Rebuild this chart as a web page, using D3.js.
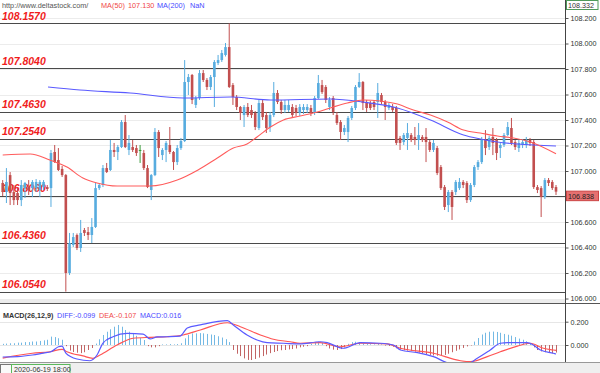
<!DOCTYPE html>
<html>
<head>
<meta charset="utf-8">
<script src="https://cdn.jsdelivr.net/npm/d3@7"></script>
<style>
  html, body { margin: 0; padding: 0; background: #fff; }
  svg { display: block; font-family: "Liberation Sans", Arial, sans-serif; }
</style>
</head>
<body>
<svg id="chart" width="600" height="373"></svg>
<script>
// ------------------ 1. Data ------------------

// one row per bar: [open, high, low, close]
const ohlc = [
  [106.906, 106.929, 106.804, 106.835], [106.835, 107.023, 106.749, 106.914],
  [106.968, 106.992, 106.733, 106.827], [106.835, 106.890, 106.733, 106.772],
  [106.827, 106.866, 106.733, 106.772], [106.772, 106.929, 106.725, 106.890],
  [106.866, 106.914, 106.788, 106.906], [106.874, 106.929, 106.812, 106.851],
  [106.866, 106.929, 106.796, 106.914], [106.866, 106.937, 106.835, 106.914],
  [106.851, 106.929, 106.796, 106.914], [106.874, 106.929, 106.851, 106.914],
  [106.874, 106.890, 106.843, 106.859], [106.866, 107.165, 106.718, 107.141],
  [107.149, 107.204, 107.063, 107.070], [107.086, 107.180, 107.000, 107.008],
  [107.016, 107.039, 106.953, 106.968], [106.968, 106.976, 106.054, 106.200],
  [106.200, 106.514, 106.184, 106.435], [106.420, 106.514, 106.404, 106.482],
  [106.498, 106.510, 106.380, 106.396], [106.396, 106.616, 106.365, 106.514],
  [106.537, 106.553, 106.490, 106.514], [106.521, 106.561, 106.459, 106.498],
  [106.498, 106.631, 106.435, 106.561], [106.561, 106.906, 106.553, 106.866],
  [106.866, 106.906, 106.851, 106.890], [106.890, 107.047, 106.874, 107.023],
  [107.023, 107.063, 106.984, 106.992], [107.008, 107.243, 107.000, 107.165],
  [107.165, 107.220, 107.110, 107.149], [107.149, 107.204, 107.086, 107.188],
  [107.188, 107.400, 107.180, 107.384], [107.384, 107.439, 107.180, 107.188],
  [107.165, 107.282, 107.125, 107.220], [107.188, 107.243, 107.149, 107.165],
  [107.180, 107.204, 107.118, 107.141], [107.165, 107.204, 107.063, 107.165],
  [107.141, 107.165, 107.008, 107.023], [107.023, 107.047, 106.866, 106.874],
  [106.851, 106.976, 106.772, 106.968], [106.968, 107.337, 106.960, 107.306],
  [107.306, 107.321, 107.110, 107.180], [107.125, 107.180, 107.086, 107.165],
  [107.165, 107.235, 107.070, 107.220], [107.204, 107.345, 107.133, 107.149],
  [107.149, 107.157, 107.008, 107.070], [107.070, 107.204, 107.047, 107.180],
  [107.180, 107.259, 107.165, 107.235], [107.235, 107.870, 107.227, 107.698],
  [107.698, 107.761, 107.596, 107.737], [107.753, 107.761, 107.525, 107.557],
  [107.518, 107.588, 107.494, 107.572], [107.572, 107.792, 107.557, 107.768],
  [107.768, 107.792, 107.698, 107.714], [107.714, 107.729, 107.635, 107.659],
  [107.659, 107.753, 107.635, 107.737], [107.737, 107.870, 107.502, 107.855],
  [107.847, 107.910, 107.831, 107.870], [107.870, 107.949, 107.855, 107.925],
  [107.910, 108.004, 107.898, 107.972], [107.972, 108.157, 107.651, 107.659],
  [107.674, 107.690, 107.518, 107.580], [107.580, 107.596, 107.478, 107.502],
  [107.502, 107.510, 107.400, 107.455], [107.439, 107.518, 107.345, 107.502],
  [107.502, 107.533, 107.423, 107.439], [107.478, 107.518, 107.416, 107.439],
  [107.455, 107.470, 107.321, 107.345], [107.337, 107.557, 107.321, 107.533],
  [107.533, 107.557, 107.400, 107.423], [107.439, 107.463, 107.298, 107.337],
  [107.345, 107.463, 107.306, 107.439], [107.439, 107.698, 107.423, 107.612],
  [107.612, 107.635, 107.525, 107.541], [107.541, 107.557, 107.447, 107.478],
  [107.478, 107.557, 107.455, 107.518], [107.478, 107.557, 107.463, 107.518],
  [107.502, 107.525, 107.416, 107.439], [107.494, 107.518, 107.431, 107.455],
  [107.455, 107.525, 107.431, 107.502], [107.478, 107.525, 107.447, 107.502],
  [107.478, 107.525, 107.455, 107.502], [107.494, 107.518, 107.431, 107.455],
  [107.455, 107.588, 107.439, 107.572], [107.572, 107.753, 107.565, 107.690],
  [107.674, 107.714, 107.604, 107.619], [107.659, 107.674, 107.533, 107.557],
  [107.502, 107.580, 107.478, 107.557], [107.572, 107.588, 107.439, 107.463],
  [107.439, 107.463, 107.361, 107.376], [107.384, 107.400, 107.243, 107.306],
  [107.306, 107.361, 107.282, 107.337], [107.306, 107.431, 107.227, 107.416],
  [107.416, 107.510, 107.400, 107.494], [107.494, 107.674, 107.478, 107.659],
  [107.659, 107.768, 107.651, 107.698], [107.698, 107.706, 107.478, 107.533],
  [107.541, 107.557, 107.463, 107.494], [107.533, 107.549, 107.478, 107.494],
  [107.541, 107.557, 107.478, 107.502], [107.541, 107.690, 107.416, 107.612],
  [107.596, 107.612, 107.525, 107.541], [107.541, 107.557, 107.400, 107.502],
  [107.494, 107.533, 107.478, 107.518], [107.502, 107.525, 107.463, 107.478],
  [107.494, 107.510, 107.204, 107.220], [107.259, 107.275, 107.165, 107.220],
  [107.227, 107.298, 107.204, 107.282], [107.259, 107.376, 107.165, 107.298],
  [107.282, 107.298, 107.227, 107.243], [107.267, 107.345, 107.204, 107.243],
  [107.243, 107.376, 107.165, 107.282], [107.267, 107.282, 107.227, 107.243],
  [107.267, 107.337, 107.070, 107.227], [107.227, 107.243, 107.149, 107.165],
  [107.165, 107.243, 107.149, 107.220], [107.180, 107.196, 106.968, 106.984],
  [107.031, 107.047, 106.851, 106.866], [106.874, 106.890, 106.694, 106.718],
  [106.733, 106.851, 106.678, 106.835], [106.835, 106.851, 106.616, 106.718],
  [106.835, 106.929, 106.812, 106.914], [106.866, 106.945, 106.851, 106.914],
  [106.914, 106.929, 106.866, 106.890], [106.906, 106.921, 106.749, 106.772],
  [106.772, 106.906, 106.757, 106.890], [106.890, 107.047, 106.874, 107.031],
  [107.031, 107.086, 107.008, 107.070], [107.070, 107.267, 107.055, 107.243],
  [107.243, 107.321, 107.125, 107.180], [107.188, 107.275, 107.165, 107.259],
  [107.267, 107.337, 107.125, 107.220], [107.243, 107.259, 107.086, 107.141],
  [107.180, 107.220, 107.102, 107.204], [107.204, 107.298, 107.188, 107.282],
  [107.282, 107.384, 107.275, 107.345], [107.337, 107.416, 107.204, 107.220],
  [107.227, 107.243, 107.165, 107.188], [107.180, 107.243, 107.149, 107.220],
  [107.204, 107.251, 107.180, 107.227], [107.204, 107.267, 107.180, 107.243],
  [107.243, 107.259, 107.196, 107.220], [107.227, 107.243, 106.859, 106.874],
  [106.874, 106.890, 106.827, 106.851], [106.866, 106.882, 106.639, 106.796],
  [106.796, 106.945, 106.780, 106.929], [106.929, 106.945, 106.882, 106.906],
  [106.914, 106.929, 106.851, 106.866], [106.874, 106.890, 106.812, 106.838]
];

// moving averages, sampled as [bar index, price]
const ma50Pts = [[0,107.125],[7.4,107.133],[12.7,107.086],[17.3,107.031],[21.6,106.945],
  [25.4,106.906],[30.8,106.882],[39.7,106.882],[47,106.929],[52.6,107.008],[57.8,107.102],
  [62.1,107.180],[65.8,107.212],[68.5,107.267],[72.1,107.345],[75.6,107.400],[80.1,107.431],
  [84.7,107.463],[89,107.502],[92.8,107.533],[97.1,107.557],[101.7,107.549],[106.3,107.525],
  [110.6,107.478],[115.2,107.439],[119.8,107.384],[124.1,107.321],[128.6,107.298],
  [133.2,107.274],[137.6,107.259],[142.1,107.227],[149,107.135]];
const ma200Pts = [[12.2,107.659],[20.8,107.635],[34.3,107.612],[48.6,107.572],[61.3,107.580],
  [72.1,107.557],[88.2,107.565],[97.1,107.541],[106.3,107.494],[115.2,107.400],[124.1,107.282],
  [128.6,107.251],[133.2,107.227],[138.6,107.212],[149,107.196]];

// horizontal support / resistance levels
const levels = [108.157, 107.804, 107.463, 107.254, 106.806, 106.436, 106.054];

// MACD histogram, one per bar
const macdHist = [
  0.010, 0.012, 0.015, 0.015, 0.020, 0.020, 0.025, 0.025, 0.030, 0.030, 0.035, 0.040,
  0.045, 0.072, 0.068, 0.058, 0.045,
  -0.010, -0.048, -0.060, -0.066, -0.070, -0.062, -0.043, -0.026,
  0.012, 0.049, 0.086, 0.114, 0.135, 0.157, 0.172, 0.157, 0.129, 0.114, 0.100, 0.079, 0.060, 0.043,
  -0.010, -0.020, -0.020, -0.010, 0.005, 0.005, 0.008, 0.005, 0.008, 0.015,
  0.057, 0.086, 0.100, 0.100, 0.102, 0.100, 0.095, 0.090, 0.086, 0.075, 0.064, 0.050, 0.025,
  -0.043, -0.075, -0.095, -0.115, -0.128, -0.129, -0.120, -0.108, -0.095, -0.082, -0.070,
  -0.060, -0.052, -0.045, -0.043, -0.038, -0.035, -0.030, -0.020,
  -0.015, -0.010, 0.010, 0.025, 0.028, 0.020, -0.010, -0.030, -0.040, -0.043, -0.035, -0.020,
  0.010, 0.025, 0.028, 0.022, 0.012, 0.008, 0.006, 0.005, 0.008, 0.005, -0.005, -0.008, -0.015,
  -0.028, -0.040, -0.045, -0.048, -0.052, -0.057, -0.065, -0.072, -0.078, -0.085, -0.090,
  -0.092, -0.090, -0.085, -0.075, -0.062, -0.050, -0.038, -0.025, -0.012, -0.004,
  0.029, 0.060, 0.090, 0.105, 0.114, 0.115, 0.112, 0.105, 0.095, 0.088, 0.080, 0.068, 0.055,
  0.045, 0.032, 0.015,
  -0.020, -0.043, -0.055, -0.062, -0.068, -0.072, -0.065
];
// DIFF / DEA lines sampled as [bar index, value]
const diffPts = [[0,-0.103],[4,-0.100],[8,-0.086],[11,-0.069],[13,-0.058],[15,-0.015],[16,-0.009],
  [17,-0.069],[20,-0.120],[23.5,-0.135],[25.4,-0.086],[27,0.017],[29.7,0.071],[33.5,0.100],
  [37.8,0.094],[39.7,0.052],[41.6,0.069],[44.3,0.071],[47.8,0.077],[49.7,0.146],[53.2,0.172],
  [60.5,0.209],[62.1,0.172],[65.8,0.086],[68.5,0.043],[71.2,0.020],[75.6,0.015],[80,0.009],
  [85.5,0.028],[87.4,0.020],[91.7,-0.028],[96.3,0.020],[101.7,0.015],[105.2,0],[107.1,-0.043],
  [111.7,-0.066],[116,-0.100],[120.6,-0.157],[125.2,-0.157],[127.8,-0.114],[131.3,-0.043],
  [134,0.015],[136,0.020],[141.3,0.020],[142.9,0],[144.8,-0.043],[148.3,-0.071],[149,-0.077]];
const deaPts = [[0,-0.112],[8,-0.071],[12.7,-0.058],[16,-0.037],[17.3,-0.058],[21.6,-0.094],
  [24.3,-0.114],[26.2,-0.086],[30.8,0],[35.1,0.058],[39.7,0.066],[44.3,0.071],[48.6,0.086],
  [53.2,0.129],[60.5,0.191],[64,0.157],[69.4,0.086],[72.9,0.049],[77.4,0.028],[80.1,0.015],
  [85.5,0.020],[90.9,-0.015],[96.3,0.015],[103.6,0.009],[107.1,-0.028],[116,-0.071],
  [123.3,-0.135],[126,-0.143],[130.5,-0.100],[134,-0.058],[138.6,-0.009],[142.1,0.015],
  [145.6,-0.028],[148.3,-0.043],[149,-0.046]];

// axis ticks
const priceTicks = [106.0, 106.2, 106.4, 106.6, 106.8, 107.0, 107.2, 107.4, 107.6, 107.8, 108.0, 108.2];
const macdTicks = [0, 0.2];
const topPrice = 108.332;

// header texts
const siteText = 'http://www.deltastock.com/';
const ma50Text = ['MA(50)', '107.130'];
const ma200Text = ['MA(200)', 'NaN'];
const macdText = ['MACD(26,12,9)', 'DIFF:-0.099', 'DEA:-0.107', 'MACD:0.016'];
const dateText = '2020-06-19 18:00';

// ------------------ 2. Layout + colours ------------------
const W = 600, H = 373;
const plotRight = 565;
const mainTop = 11, mainBottom = 300;
const macdTop = 304, macdBottom = 362;

const upColor = '#57acdf';
const downColor = '#c24f4f';
const dojiColor = '#3c9a3c';
const levelRed = '#f01c1c';
const fontFam = '"Liberation Sans", Arial, sans-serif';

const svg = d3.select('#chart');

// ------------------ 3. Scales ------------------
const x = d3.scaleLinear().domain([0, ohlc.length - 1]).range([2.7, 556]);
const y = d3.scaleLinear().domain([106, 108]).range([298.5, 43.5]);
const ym = d3.scaleLinear().domain([0, 0.2]).range([345, 321.7]);

const lastClose = ohlc[ohlc.length - 1][3];
const lastBoxTop = y(lastClose) - 0.5;

svg.append('rect').attr('width', W).attr('height', H).attr('fill', '#fff');

const defs = svg.append('defs');
defs.append('clipPath').attr('id', 'clip-main')
  .append('rect').attr('x', 0).attr('y', mainTop).attr('width', plotRight).attr('height', mainBottom - mainTop);
defs.append('clipPath').attr('id', 'clip-macd')
  .append('rect').attr('x', 0).attr('y', macdTop).attr('width', plotRight).attr('height', macdBottom - macdTop);

// ------------------ 4. Main panel ------------------
const main = svg.append('g').attr('clip-path', 'url(#clip-main)');

// light grid
main.selectAll('line.grid').data(priceTicks).join('line')
  .attr('class', 'grid')
  .attr('x1', 0).attr('x2', plotRight)
  .attr('y1', d => Math.round(y(d)) + 0.5).attr('y2', d => Math.round(y(d)) + 0.5)
  .attr('stroke', '#ececec');

// level lines + labels (labels sit under the candles)
main.selectAll('line.level').data(levels).join('line')
  .attr('class', 'level')
  .attr('x1', 0).attr('x2', plotRight)
  .attr('y1', d => Math.round(y(d)) + 0.5).attr('y2', d => Math.round(y(d)) + 0.5)
  .attr('stroke', '#4a4a4a').attr('stroke-width', 1.2);

main.selectAll('text.level').data(levels).join('text')
  .attr('class', 'level')
  .attr('x', 2).attr('y', d => y(d) - 3.5)
  .attr('font-family', fontFam).attr('font-size', 10.5)
  .attr('font-weight', 'bold').attr('font-style', 'italic')
  .attr('fill', levelRed)
  .text(d => d.toFixed(4));

// candles
const candleColor = d => d[3] > d[0] ? upColor : (d[3] < d[0] ? downColor : dojiColor);

const candles = main.append('g').selectAll('g').data(ohlc).join('g');
candles.append('line')
  .attr('x1', (d, i) => x(i)).attr('x2', (d, i) => x(i))
  .attr('y1', d => y(d[1])).attr('y2', d => y(d[2]))
  .attr('stroke', candleColor).attr('stroke-width', 1);
candles.append('rect')
  .attr('x', (d, i) => x(i) - 1.3)
  .attr('width', 2.6)
  .attr('y', d => y(Math.max(d[0], d[3])))
  .attr('height', d => Math.max(1, Math.abs(y(d[0]) - y(d[3]))))
  .attr('fill', candleColor);

// moving averages on top
const maLine = d3.line().x(d => x(d[0])).y(d => y(d[1])).curve(d3.curveMonotoneX);
main.append('path').attr('d', maLine(ma200Pts))
  .attr('fill', 'none').attr('stroke', '#5a5aff').attr('stroke-width', 1.1);
main.append('path').attr('d', maLine(ma50Pts))
  .attr('fill', 'none').attr('stroke', '#ff5c5c').attr('stroke-width', 1.1);

// header
const header = svg.append('g').attr('font-family', fontFam).attr('font-size', 7.3);
header.append('text').attr('x', 2).attr('y', 8).attr('fill', '#555').text(siteText);
header.append('text').attr('x', 101).attr('y', 8).attr('fill', '#f04848').text(ma50Text[0]);
header.append('text').attr('x', 128).attr('y', 8).attr('fill', '#f04848').text(ma50Text[1]);
header.append('text').attr('x', 157).attr('y', 8).attr('fill', '#4a4aff').text(ma200Text[0]);
header.append('text').attr('x', 190).attr('y', 8).attr('fill', '#4a4aff').text(ma200Text[1]);

// ------------------ 5. Panel separator ------------------
svg.append('rect').attr('x', 0).attr('y', mainBottom).attr('width', plotRight).attr('height', macdTop - mainBottom - 1)
  .attr('fill', '#ececec');
svg.append('line').attr('x1', 0).attr('x2', W).attr('y1', macdTop - 0.5).attr('y2', macdTop - 0.5)
  .attr('stroke', '#555');

// ------------------ 6. MACD panel ------------------
const macd = svg.append('g').attr('clip-path', 'url(#clip-macd)');
macd.selectAll('line.grid').data(macdTicks).join('line')
  .attr('class', 'grid')
  .attr('x1', 0).attr('x2', plotRight)
  .attr('y1', d => Math.round(ym(d)) + 0.5).attr('y2', d => Math.round(ym(d)) + 0.5)
  .attr('stroke', '#e6e6e6');

macd.selectAll('line.hist').data(macdHist).join('line')
  .attr('class', 'hist')
  .attr('x1', (d, i) => Math.round(x(i)) + 0.5).attr('x2', (d, i) => Math.round(x(i)) + 0.5)
  .attr('y1', ym(0)).attr('y2', d => ym(d))
  .attr('stroke', d => d >= 0 ? '#74b9e4' : '#c26464').attr('stroke-width', 1);

const macdLine = d3.line().x(d => x(d[0])).y(d => ym(d[1])).curve(d3.curveMonotoneX);
macd.append('path').attr('d', macdLine(deaPts))
  .attr('fill', 'none').attr('stroke', '#ff5555').attr('stroke-width', 1.2);
macd.append('path').attr('d', macdLine(diffPts))
  .attr('fill', 'none').attr('stroke', '#5a5aff').attr('stroke-width', 1.2);

const mHead = svg.append('g').attr('font-family', fontFam).attr('font-size', 7.2);
mHead.append('text').attr('x', 3).attr('y', 317.5).attr('fill', '#333').attr('font-weight', 'bold').text(macdText[0]);
mHead.append('text').attr('x', 57).attr('y', 317.5).attr('fill', '#4a4aff').text(macdText[1]);
mHead.append('text').attr('x', 99).attr('y', 317.5).attr('fill', '#f04848').text(macdText[2]);
mHead.append('text').attr('x', 140).attr('y', 317.5).attr('fill', '#4a4aff').text(macdText[3]);

// ------------------ 7. Right axes ------------------
function styleAxis(g) {
  g.attr('font-family', fontFam).attr('font-size', 7.2);
  g.select('.domain').remove();
  g.selectAll('line').attr('stroke', '#555');
  g.selectAll('text').attr('fill', '#333');
}
// the last-close box covers whichever price label it lands on
const labelTicks = priceTicks.filter(t => Math.abs(y(t) - (lastBoxTop + 4.75)) > 9);
svg.append('g').attr('transform', `translate(${plotRight + 0.5},0)`)
  .call(d3.axisRight(y).tickValues(labelTicks).tickSize(3).tickPadding(2).tickFormat(d3.format('.3f')))
  .call(styleAxis);
svg.append('g').attr('transform', `translate(${plotRight + 0.5},0)`)
  .call(d3.axisRight(ym).tickValues(macdTicks).tickSize(3).tickPadding(2).tickFormat(d3.format('.3f')))
  .call(styleAxis);

svg.append('line').attr('x1', plotRight + 0.5).attr('x2', plotRight + 0.5).attr('y1', 0).attr('y2', H)
  .attr('stroke', '#444');

// top value box
svg.append('rect').attr('x', plotRight + 1.5).attr('y', 0.5).attr('width', 31.5).attr('height', 9)
  .attr('fill', '#fff').attr('stroke', '#4f9a5a');
svg.append('text').attr('x', plotRight + 3).attr('y', 8)
  .attr('font-family', fontFam).attr('font-size', 7.2).attr('fill', '#333')
  .text(d3.format('.3f')(topPrice));

// last close box
svg.append('rect').attr('x', plotRight + 1.5).attr('y', lastBoxTop).attr('width', 32).attr('height', 9.5)
  .attr('fill', '#e57070').attr('stroke', '#c44');
svg.append('text').attr('x', plotRight + 3).attr('y', lastBoxTop + 7.5)
  .attr('font-family', fontFam).attr('font-size', 7.2).attr('fill', '#222')
  .text(d3.format('.3f')(lastClose));

// ------------------ 8. Bottom date bar ------------------
svg.append('rect').attr('x', 0).attr('y', macdBottom).attr('width', W).attr('height', H - macdBottom)
  .attr('fill', '#efefef');
svg.append('line').attr('x1', 0).attr('x2', W).attr('y1', macdBottom + 0.5).attr('y2', macdBottom + 0.5)
  .attr('stroke', '#999');
svg.append('rect').attr('x', 0.5).attr('y', macdBottom + 2.5).attr('width', 11).attr('height', 10)
  .attr('fill', '#fafafa').attr('stroke', '#777');
svg.append('rect').attr('x', 11.5).attr('y', macdBottom + 2.5).attr('width', 58.5).attr('height', 10)
  .attr('fill', '#f6f6f6').attr('stroke', '#5cb85c');
svg.append('text').attr('x', 14).attr('y', macdBottom + 10)
  .attr('font-family', fontFam).attr('font-size', 7.2).attr('fill', '#333')
  .text(dateText);
</script>
</body>
</html>
